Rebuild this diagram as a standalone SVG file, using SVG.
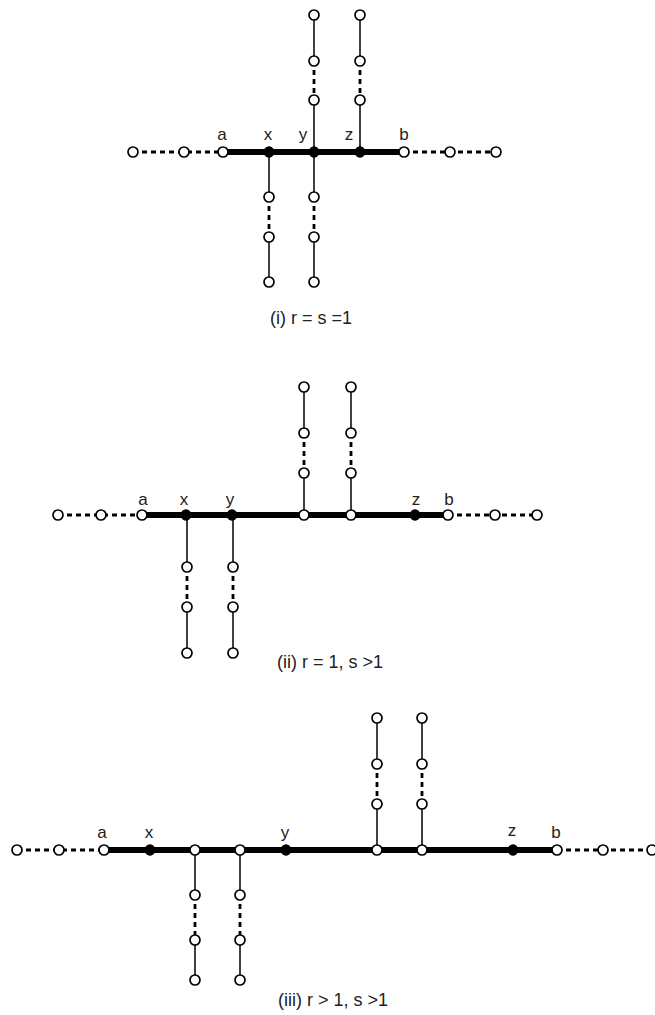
<svg xmlns="http://www.w3.org/2000/svg" width="655" height="1015" viewBox="0 0 655 1015">
<style>
.thick{stroke:#000;stroke-width:6;fill:none}
.thin{stroke:#000;stroke-width:1.5;fill:none}
.dash{stroke:#000;stroke-width:2.8;stroke-dasharray:5 4;fill:none}
.open{fill:#fff;stroke:#000;stroke-width:1.7}
.filled{fill:#000;stroke:#000;stroke-width:1}
.lbl{font-family:"Liberation Sans",Arial,sans-serif;font-size:17px;text-anchor:middle;fill:#222}
.cap{font-family:"Liberation Sans",Arial,sans-serif;font-size:18px;text-anchor:middle;fill:#222}
</style>
<rect width="655" height="1015" fill="#fff"/>
<g id="connectors">
<!-- panel i -->
<line class="dash" x1="133" y1="152" x2="223" y2="152"/>
<line class="thick" x1="223" y1="152" x2="404" y2="152"/>
<line class="dash" x1="404" y1="152" x2="496" y2="152"/>
<line class="thin" x1="314" y1="15" x2="314" y2="61"/><line class="dash" x1="314" y1="61" x2="314" y2="100"/><line class="thin" x1="314" y1="100" x2="314" y2="152"/>
<line class="thin" x1="360" y1="15" x2="360" y2="61"/><line class="dash" x1="360" y1="61" x2="360" y2="100"/><line class="thin" x1="360" y1="100" x2="360" y2="152"/>
<line class="thin" x1="269" y1="152" x2="269" y2="197"/><line class="dash" x1="269" y1="197" x2="269" y2="237"/><line class="thin" x1="269" y1="237" x2="269" y2="282"/>
<line class="thin" x1="314" y1="152" x2="314" y2="197"/><line class="dash" x1="314" y1="197" x2="314" y2="237"/><line class="thin" x1="314" y1="237" x2="314" y2="282"/>
<!-- panel ii -->
<line class="dash" x1="58" y1="515" x2="142" y2="515"/>
<line class="thick" x1="142" y1="515" x2="448" y2="515"/>
<line class="dash" x1="448" y1="515" x2="537" y2="515"/>
<line class="thin" x1="304" y1="387" x2="304" y2="433"/><line class="dash" x1="304" y1="433" x2="304" y2="473"/><line class="thin" x1="304" y1="473" x2="304" y2="515"/>
<line class="thin" x1="351" y1="387" x2="351" y2="433"/><line class="dash" x1="351" y1="433" x2="351" y2="473"/><line class="thin" x1="351" y1="473" x2="351" y2="515"/>
<line class="thin" x1="187" y1="515" x2="187" y2="567"/><line class="dash" x1="187" y1="567" x2="187" y2="607"/><line class="thin" x1="187" y1="607" x2="187" y2="653"/>
<line class="thin" x1="233" y1="515" x2="233" y2="567"/><line class="dash" x1="233" y1="567" x2="233" y2="607"/><line class="thin" x1="233" y1="607" x2="233" y2="653"/>
<!-- panel iii -->
<line class="dash" x1="17" y1="850" x2="104" y2="850"/>
<line class="thick" x1="104" y1="850" x2="557" y2="850"/>
<line class="dash" x1="557" y1="850" x2="652" y2="850"/>
<line class="thin" x1="377" y1="718" x2="377" y2="764"/><line class="dash" x1="377" y1="764" x2="377" y2="804"/><line class="thin" x1="377" y1="804" x2="377" y2="850"/>
<line class="thin" x1="422" y1="718" x2="422" y2="764"/><line class="dash" x1="422" y1="764" x2="422" y2="804"/><line class="thin" x1="422" y1="804" x2="422" y2="850"/>
<line class="thin" x1="195" y1="850" x2="195" y2="895"/><line class="dash" x1="195" y1="895" x2="195" y2="940"/><line class="thin" x1="195" y1="940" x2="195" y2="980"/>
<line class="thin" x1="240" y1="850" x2="240" y2="895"/><line class="dash" x1="240" y1="895" x2="240" y2="940"/><line class="thin" x1="240" y1="940" x2="240" y2="980"/>
</g>
<!-- panel i nodes -->
<g id="p1-l1"><circle class="open" cx="133" cy="152" r="5"/></g>
<g id="p1-l2"><circle class="open" cx="184" cy="152" r="5"/></g>
<g id="p1-a"><circle class="open" cx="223" cy="152" r="5"/><text class="lbl" x="222" y="140">a</text></g>
<g id="p1-x"><circle class="filled" cx="269" cy="152" r="5.2"/><text class="lbl" x="268" y="140">x</text></g>
<g id="p1-y"><circle class="filled" cx="314" cy="152" r="5.2"/><text class="lbl" x="303" y="140">y</text></g>
<g id="p1-z"><circle class="filled" cx="360" cy="152" r="5.2"/><text class="lbl" x="349" y="140">z</text></g>
<g id="p1-b"><circle class="open" cx="404" cy="152" r="5"/><text class="lbl" x="404" y="140">b</text></g>
<g id="p1-r1"><circle class="open" cx="450" cy="152" r="5"/></g>
<g id="p1-r2"><circle class="open" cx="496" cy="152" r="5"/></g>
<g id="p1-yu1"><circle class="open" cx="314" cy="15" r="5"/></g>
<g id="p1-yu2"><circle class="open" cx="314" cy="61" r="5"/></g>
<g id="p1-yu3"><circle class="open" cx="314" cy="100" r="5"/></g>
<g id="p1-zu1"><circle class="open" cx="360" cy="15" r="5"/></g>
<g id="p1-zu2"><circle class="open" cx="360" cy="61" r="5"/></g>
<g id="p1-zu3"><circle class="open" cx="360" cy="100" r="5"/></g>
<g id="p1-xd1"><circle class="open" cx="269" cy="197" r="5"/></g>
<g id="p1-xd2"><circle class="open" cx="269" cy="237" r="5"/></g>
<g id="p1-xd3"><circle class="open" cx="269" cy="282" r="5"/></g>
<g id="p1-yd1"><circle class="open" cx="314" cy="197" r="5"/></g>
<g id="p1-yd2"><circle class="open" cx="314" cy="237" r="5"/></g>
<g id="p1-yd3"><circle class="open" cx="314" cy="282" r="5"/></g>
<text id="cap1" class="cap" x="311" y="324">(i) r = s =1</text>
<!-- panel ii nodes -->
<g id="p2-l1"><circle class="open" cx="58" cy="515" r="5"/></g>
<g id="p2-l2"><circle class="open" cx="101" cy="515" r="5"/></g>
<g id="p2-a"><circle class="open" cx="142" cy="515" r="5"/><text class="lbl" x="143" y="505">a</text></g>
<g id="p2-x"><circle class="filled" cx="186" cy="515" r="5.2"/><text class="lbl" x="184" y="505">x</text></g>
<g id="p2-y"><circle class="filled" cx="232" cy="515" r="5.2"/><text class="lbl" x="230" y="505">y</text></g>
<g id="p2-m1"><circle class="open" cx="304" cy="515" r="5"/></g>
<g id="p2-m2"><circle class="open" cx="351" cy="515" r="5"/></g>
<g id="p2-z"><circle class="filled" cx="415" cy="515" r="5.2"/><text class="lbl" x="416" y="505">z</text></g>
<g id="p2-b"><circle class="open" cx="448" cy="515" r="5"/><text class="lbl" x="449" y="505">b</text></g>
<g id="p2-r1"><circle class="open" cx="495" cy="515" r="5"/></g>
<g id="p2-r2"><circle class="open" cx="537" cy="515" r="5"/></g>
<g id="p2-u11"><circle class="open" cx="304" cy="387" r="5"/></g>
<g id="p2-u12"><circle class="open" cx="304" cy="433" r="5"/></g>
<g id="p2-u13"><circle class="open" cx="304" cy="473" r="5"/></g>
<g id="p2-u21"><circle class="open" cx="351" cy="387" r="5"/></g>
<g id="p2-u22"><circle class="open" cx="351" cy="433" r="5"/></g>
<g id="p2-u23"><circle class="open" cx="351" cy="473" r="5"/></g>
<g id="p2-d11"><circle class="open" cx="187" cy="567" r="5"/></g>
<g id="p2-d12"><circle class="open" cx="187" cy="607" r="5"/></g>
<g id="p2-d13"><circle class="open" cx="187" cy="653" r="5"/></g>
<g id="p2-d21"><circle class="open" cx="233" cy="567" r="5"/></g>
<g id="p2-d22"><circle class="open" cx="233" cy="607" r="5"/></g>
<g id="p2-d23"><circle class="open" cx="233" cy="653" r="5"/></g>
<text id="cap2" class="cap" x="330" y="668">(ii) r = 1, s &gt;1</text>
<!-- panel iii nodes -->
<g id="p3-l1"><circle class="open" cx="17" cy="850" r="5"/></g>
<g id="p3-l2"><circle class="open" cx="59" cy="850" r="5"/></g>
<g id="p3-a"><circle class="open" cx="104" cy="850" r="5"/><text class="lbl" x="102" y="838">a</text></g>
<g id="p3-x"><circle class="filled" cx="150" cy="850" r="5.2"/><text class="lbl" x="149" y="838">x</text></g>
<g id="p3-m1"><circle class="open" cx="195" cy="850" r="5"/></g>
<g id="p3-m2"><circle class="open" cx="240" cy="850" r="5"/></g>
<g id="p3-y"><circle class="filled" cx="286" cy="850" r="5.2"/><text class="lbl" x="285" y="838">y</text></g>
<g id="p3-m3"><circle class="open" cx="377" cy="850" r="5"/></g>
<g id="p3-m4"><circle class="open" cx="422" cy="850" r="5"/></g>
<g id="p3-z"><circle class="filled" cx="513" cy="850" r="5.2"/><text class="lbl" x="512" y="836">z</text></g>
<g id="p3-b"><circle class="open" cx="557" cy="850" r="5"/><text class="lbl" x="556" y="838">b</text></g>
<g id="p3-r1"><circle class="open" cx="603" cy="850" r="5"/></g>
<g id="p3-r2"><circle class="open" cx="652" cy="850" r="5"/></g>
<g id="p3-u11"><circle class="open" cx="377" cy="718" r="5"/></g>
<g id="p3-u12"><circle class="open" cx="377" cy="764" r="5"/></g>
<g id="p3-u13"><circle class="open" cx="377" cy="804" r="5"/></g>
<g id="p3-u21"><circle class="open" cx="422" cy="718" r="5"/></g>
<g id="p3-u22"><circle class="open" cx="422" cy="764" r="5"/></g>
<g id="p3-u23"><circle class="open" cx="422" cy="804" r="5"/></g>
<g id="p3-d11"><circle class="open" cx="195" cy="895" r="5"/></g>
<g id="p3-d12"><circle class="open" cx="195" cy="940" r="5"/></g>
<g id="p3-d13"><circle class="open" cx="195" cy="980" r="5"/></g>
<g id="p3-d21"><circle class="open" cx="240" cy="895" r="5"/></g>
<g id="p3-d22"><circle class="open" cx="240" cy="940" r="5"/></g>
<g id="p3-d23"><circle class="open" cx="240" cy="980" r="5"/></g>
<text id="cap3" class="cap" x="333" y="1006">(iii) r &gt; 1, s &gt;1</text>
</svg>
